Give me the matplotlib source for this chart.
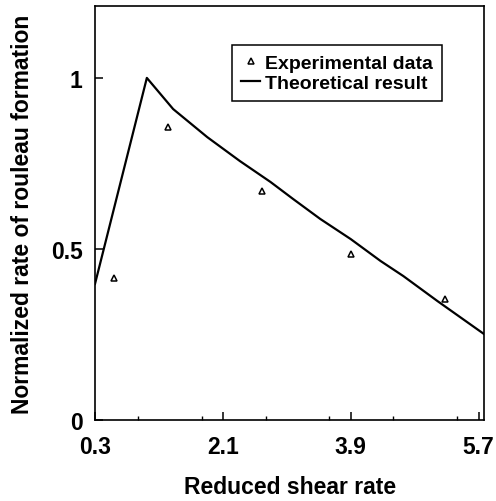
import matplotlib
matplotlib.use("Agg")
import matplotlib.pyplot as plt
from matplotlib.ticker import MultipleLocator

plt.rcParams['font.family'] = ['Liberation Sans', 'DejaVu Sans']

# experimental points
exp_x = [0.57, 1.33, 2.65, 3.90, 5.23]
exp_y = [0.415, 0.856, 0.670, 0.486, 0.354]

# theoretical curve
theo_x = [0.30, 1.03, 1.40, 1.88, 2.34, 2.77, 3.09, 3.47, 3.90, 4.32, 4.64, 5.12, 5.78]
theo_y = [0.398, 1.0, 0.909, 0.827, 0.757, 0.696, 0.646, 0.588, 0.529, 0.465, 0.421, 0.348, 0.251]

xticks = [0.3, 2.1, 3.9, 5.7]
yticks = [0, 0.5, 1]
ytick_labels = ["0", "0.5", "1"]

fig = plt.figure(figsize=(4.96, 5.02), dpi=100)
ax = fig.add_axes([0.1915, 0.161, 0.785, 0.825])

ax.plot(theo_x, theo_y, color="black", lw=1.6, label="Theoretical result")
ax.plot(exp_x, exp_y, ls="none", marker="^", ms=4.5, mfc="white", mec="black",
        mew=1.1, label="Experimental data")

ax.set_xlim(0.3, 5.78)
ax.set_ylim(0, 1.21)
ax.set_xticks(xticks)
ax.set_xticklabels([str(t) for t in xticks])
ax.xaxis.set_minor_locator(MultipleLocator(0.9))
ax.set_yticks(yticks)
ax.set_yticklabels(ytick_labels)
ax.tick_params(direction="in", length=6, width=1.1, labelsize=16.5, pad=11)
ax.tick_params(axis="y", pad=9)
ax.tick_params(which="minor", direction="in", length=3, width=1.0)
for lab in ax.get_xticklabels() + ax.get_yticklabels():
    lab.set_fontweight("bold")
for s in ax.spines.values():
    s.set_linewidth(1.2)

ax.set_xlabel("Reduced shear rate", fontsize=16.5, fontweight="bold", labelpad=12)
ax.set_ylabel("Normalized rate of rouleau formation", fontsize=16.5, fontweight="bold", labelpad=12)

handles, labels = ax.get_legend_handles_labels()
leg = ax.legend(handles[::-1], labels[::-1], loc="upper left",
                bbox_to_anchor=(0.352, 0.905), fancybox=False, edgecolor="black",
                framealpha=1, prop={"size": 14, "weight": "bold"},
                handlelength=1.0, handletextpad=0.25, borderpad=0.45, labelspacing=0.15,
                borderaxespad=0)
leg.get_frame().set_linewidth(1.1)

fig.savefig("out.png", dpi=100)
